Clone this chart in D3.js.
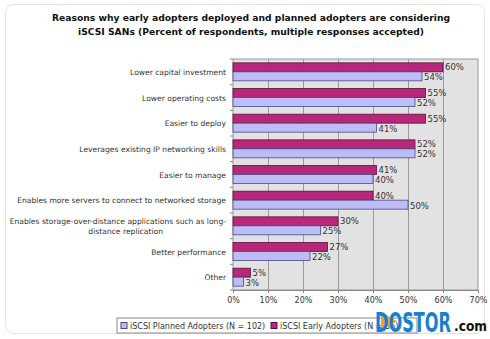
<!DOCTYPE html>
<html>
<head>
<meta charset="utf-8">
<script src="https://cdn.jsdelivr.net/npm/d3@7"></script>
<style>
  body { margin: 0; background: #fff; }
  svg text { font-family: Tahoma, "DejaVu Sans", sans-serif; }
</style>
</head>
<body>
<svg id="chart" width="490" height="339"></svg>
<script>
// reasons, top to bottom
var categories = [
  "Lower capital investment",
  "Lower operating costs",
  "Easier to deploy",
  "Leverages existing IP networking skills",
  "Easier to manage",
  "Enables more servers to connect to networked storage",
  "Enables storage-over-distance applications such as long-|distance replication",
  "Better performance",
  "Other"
];
var early = [60, 55, 55, 52, 41, 40, 30, 27, 5];
var planned = [54, 52, 41, 52, 40, 50, 25, 22, 3];
var xTicks = [0, 10, 20, 30, 40, 50, 60, 70];
var seriesNames = ["iSCSI Planned Adopters (N = 102)", "iSCSI Early Adopters (N = 86)"];

var margin = {top: 59, left: 233, right: 12, bottom: 49},
    width = 490 - margin.left - margin.right,
    height = 339 - margin.top - margin.bottom;

var svg = d3.select("#chart");

// outer frame
svg.append("rect")
    .attr("x", 5.5).attr("y", 4.5)
    .attr("width", 479).attr("height", 329)
    .attr("rx", 8)
    .attr("fill", "none")
    .attr("stroke", "#e4e4e4");

// title
var title = svg.append("text")
    .attr("text-anchor", "middle")
    .attr("font-weight", "bold")
    .attr("font-size", "9.2px")
    .attr("fill", "#111");
title.append("tspan").attr("x", 251).attr("y", 21)
    .text("Reasons why early adopters deployed and planned adopters are considering");
title.append("tspan").attr("x", 251).attr("y", 35)
    .text("iSCSI SANs (Percent of respondents, multiple responses accepted)");

var g = svg.append("g")
    .attr("transform", "translate(" + margin.left + "," + margin.top + ")");

var x = d3.scaleLinear().domain([0, 70]).range([0, width]);
var y = d3.scaleBand().domain(categories).range([0, height]).paddingInner(0.3).paddingOuter(0.15);

// plot area
g.append("rect")
    .attr("width", width).attr("height", height)
    .attr("fill", "#e2e2e2")
    .attr("stroke", "#9a9a9a");

// gridlines
g.selectAll(".grid")
    .data(xTicks.slice(1, -1))
    .enter().append("line")
    .attr("x1", function(d) { return x(d) + 0.5; })
    .attr("x2", function(d) { return x(d) + 0.5; })
    .attr("y1", 0).attr("y2", height)
    .attr("stroke", "#9a9a9a");

// x axis
var xAxis = g.append("g")
    .attr("transform", "translate(0," + height + ")")
    .call(d3.axisBottom(x).tickValues(xTicks).tickFormat(function(d) { return d + "%"; }).tickSize(3));
xAxis.select(".domain").attr("stroke", "#888");
xAxis.selectAll("line").attr("stroke", "#888");
xAxis.selectAll("text").attr("font-size", "8px").attr("fill", "#333").attr("dy", "0.9em");

// y axis ticks at band boundaries
var bandStep = height / categories.length;
g.selectAll(".ytick")
    .data(d3.range(categories.length + 1))
    .enter().append("line")
    .attr("x1", -3).attr("x2", 0)
    .attr("y1", function(d) { return d * bandStep; })
    .attr("y2", function(d) { return d * bandStep; })
    .attr("stroke", "#888");

var barH = y.bandwidth() / 2;

// early adopters (top bar)
g.selectAll(".early")
    .data(early)
    .enter().append("rect")
    .attr("x", 0)
    .attr("y", function(d, i) { return y(categories[i]); })
    .attr("width", function(d) { return x(d); })
    .attr("height", barH)
    .attr("fill", "#b8287a")
    .attr("stroke", "#5a1040")
    .attr("stroke-width", 0.8);

// planned adopters (lower bar)
g.selectAll(".planned")
    .data(planned)
    .enter().append("rect")
    .attr("x", 0)
    .attr("y", function(d, i) { return y(categories[i]) + barH; })
    .attr("width", function(d) { return x(d); })
    .attr("height", barH)
    .attr("fill", "#bcbcf6")
    .attr("stroke", "#4a4a80")
    .attr("stroke-width", 0.8);

// value labels
g.selectAll(".lblE")
    .data(early)
    .enter().append("text")
    .attr("x", function(d) { return x(d) + 2; })
    .attr("y", function(d, i) { return y(categories[i]) + barH / 2 + 3; })
    .attr("font-size", "8.5px").attr("fill", "#333")
    .text(function(d) { return d + "%"; });

g.selectAll(".lblP")
    .data(planned)
    .enter().append("text")
    .attr("x", function(d) { return x(d) + 2; })
    .attr("y", function(d, i) { return y(categories[i]) + barH * 1.5 + 4; })
    .attr("font-size", "8.5px").attr("fill", "#333")
    .text(function(d) { return d + "%"; });

// category labels
categories.forEach(function(c, i) {
  var lines = c.split("|");
  var cy = y(c) + y.bandwidth() / 2;
  var t = g.append("text")
      .attr("text-anchor", "end")
      .attr("font-size", "7.6px")
      .attr("fill", "#333");
  lines.forEach(function(s, j) {
    var tx = lines.length > 1 && j > 0 ? -70 : -7;
    t.append("tspan")
        .attr("x", tx)
        .attr("y", cy + 3 + (j - (lines.length - 1) / 2) * 10)
        .text(s);
  });
});

// legend
var leg = svg.append("g").attr("transform", "translate(117,318)");
leg.append("rect")
    .attr("width", 300).attr("height", 15)
    .attr("fill", "#fff").attr("stroke", "#888");
var legColors = [["#bcbcf6", "#4a4a80"], ["#b8287a", "#5a1040"]];
var legX = [4, 154];
seriesNames.forEach(function(s, i) {
  leg.append("rect")
      .attr("x", legX[i]).attr("y", 4.5)
      .attr("width", 6).attr("height", 6)
      .attr("fill", legColors[i][0]).attr("stroke", legColors[i][1]);
  leg.append("text")
      .attr("x", legX[i] + 9).attr("y", 10.5)
      .attr("font-size", "8px").attr("fill", "#333")
      .text(s);
});

// watermark
var wm = svg.append("g").attr("transform", "translate(375,306)");
wm.append("path")
    .attr("d", "M6,6 L22,15 L6,24 Z")
    .attr("fill", "#f3a51c");
wm.append("text")
    .attr("x", 0).attr("y", 26)
    .attr("font-family", "DejaVu Sans, sans-serif")
    .attr("font-weight", "bold")
    .attr("font-size", "26px")
    .attr("fill", "#1a7fd0")
    .attr("textLength", 76)
    .attr("lengthAdjust", "spacingAndGlyphs")
    .text("DOSTOR");
wm.append("text")
    .attr("x", 79).attr("y", 25)
    .attr("font-family", "DejaVu Sans, sans-serif")
    .attr("font-weight", "bold")
    .attr("font-size", "14px")
    .attr("fill", "#111")
    .attr("textLength", 33)
    .attr("lengthAdjust", "spacingAndGlyphs")
    .text(".com");
</script>
</body>
</html>
